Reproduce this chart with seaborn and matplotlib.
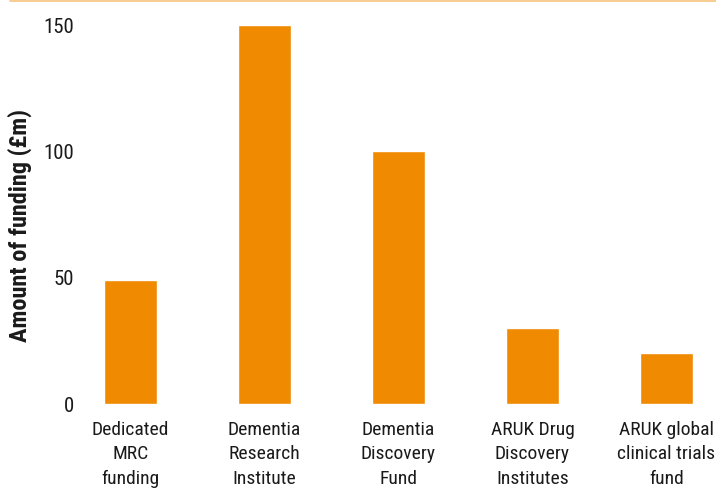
import pandas as pd
import matplotlib.pyplot as plt
import seaborn as sns
from matplotlib.lines import Line2D

# funding amounts (£m)
schemes = ["Dedicated\nMRC\nfunding", "Dementia\nResearch\nInstitute",
           "Dementia\nDiscovery\nFund", "ARUK Drug\nDiscovery\nInstitutes",
           "ARUK global\nclinical trials\nfund"]
funding = [49, 150, 100, 30, 20]
yticks = [0, 50, 100, 150]

df = pd.DataFrame({"Scheme": schemes, "Funding": funding})

sns.set_style("white")
plt.rcParams['font.family'] = ['Roboto Condensed', 'DejaVu Sans']

fig = plt.figure(figsize=(7.16, 4.9), dpi=100)
ax = fig.add_axes([85 / 716, 86 / 490, 631 / 716, 404 / 490])
sns.barplot(data=df, x="Scheme", y="Funding", color="#F08A00", width=0.4,
            saturation=1, ax=ax)

ax.set_xlim((85 - 130.5) / 134, (716 - 130.5) / 134)
ax.set_ylim(0, 159.9)
ax.set_yticks(yticks)
ax.set_xlabel("")
ax.set_ylabel("Amount of funding (£m)", fontsize=17.5, fontweight="bold",
              color="#1a1a1a", va="center")
ax.yaxis.set_label_coords((20 - 85) / 631, (404 - 226) / 404)
ax.tick_params(axis="y", length=0, pad=8, labelsize=15, labelcolor="#1a1a1a")
ax.tick_params(axis="x", length=0, pad=12, labelsize=14, labelcolor="#1a1a1a")
for lbl in ax.get_xticklabels():
    lbl.set_linespacing(1.48)
sns.despine(ax=ax, left=True, bottom=True)

# thin line across the top of the figure
fig.add_artist(Line2D([10 / 716, 1], [1 - 1.5 / 490] * 2, color="#F7C47F",
                      linewidth=1.2, transform=fig.transFigure))

fig.savefig("out.png", dpi=100)
